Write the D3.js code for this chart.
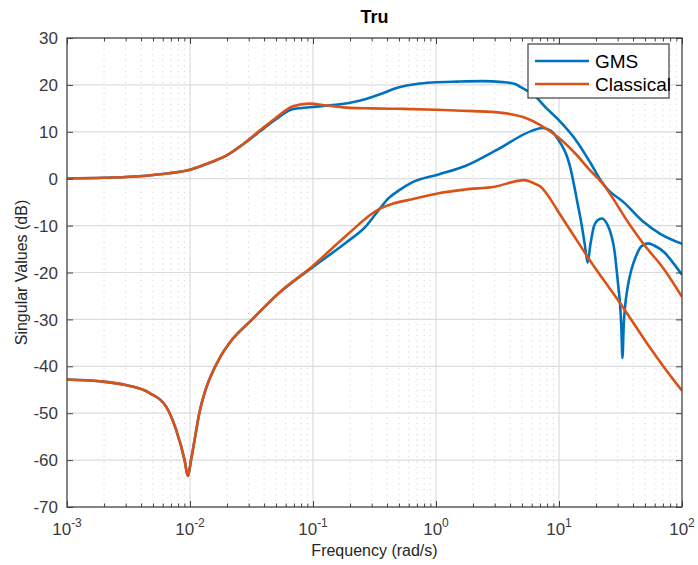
<!DOCTYPE html>
<html>
<head>
<meta charset="utf-8">
<script src="https://cdn.jsdelivr.net/npm/d3@7"></script>
<style>
  body { margin: 0; background: #fff; }
  text { font-family: "Liberation Sans", Arial, Helvetica, sans-serif; }
</style>
</head>
<body>
<svg id="chart" width="698" height="565"></svg>
<script>
// ---- Singular value data (frequency in rad/s, magnitude in dB) ----
const seriesNames  = ["GMS", "Classical"];
const seriesColors = ["#0072BD", "#D95319"];

// GMS controller: largest singular value
const gmsHiFreq = [0.001, 0.002, 0.003, 0.0057, 0.01, 0.0144, 0.0197, 0.0269, 0.0367, 0.05,
                   0.068, 0.1, 0.143, 0.2, 0.27, 0.35, 0.5, 0.7, 0.93, 1.5,
                   2.36, 3.5, 4.4, 4.9, 6.27, 8, 9.7, 14, 18, 22,
                   24.7, 33.5, 48.5, 66, 100];
const gmsHiDb   = [0.1, 0.2, 0.35, 0.95, 1.9, 3.4, 4.9, 7.3, 10.0, 12.7,
                   14.8, 15.3, 15.7, 16.2, 17.0, 18.0, 19.5, 20.2, 20.5, 20.7,
                   20.8, 20.6, 20.2, 19.5, 17.8, 14.9, 12.8, 7.9, 3.4, -0.5,
                   -2.2, -5.0, -9.2, -11.7, -13.9];

// GMS controller: smallest singular value
const gmsLoFreq = [0.001, 0.00185, 0.003, 0.0047, 0.0064, 0.0077, 0.00904, 0.0096, 0.0102, 0.0109,
                   0.0119, 0.0132, 0.0148, 0.0172, 0.021, 0.032, 0.053, 0.099, 0.185, 0.27,
                   0.344, 0.41, 0.5, 0.64, 1.05, 1.73, 3.2, 6.0, 7.3, 8.5,
                   9.7, 12.4, 14.0, 15.2, 16.2, 17.1, 18.0, 19.2, 20.5, 22.3,
                   24.5, 26.7, 28.3, 29.4, 30.5, 31.3, 32.1, 32.8, 33.6, 34.7,
                   36.5, 38.8, 42, 46.8, 53.1, 60, 72.4, 85, 100];
const gmsLoDb   = [-42.8, -43.2, -44.0, -45.7, -48.6, -53.5, -60.0, -63.4, -60.0, -55.7,
                   -50.0, -45.5, -42.0, -38.5, -35.0, -30.0, -24.4, -18.9, -13.65, -10.1,
                   -6.6, -4.2, -2.5, -0.8, 0.9, 2.7, 6.3, 10.2, 10.8, 10.3,
                   8.6, 2.2, -4.6, -9.5, -14.0, -17.9, -14.0, -10.2, -8.9, -8.5,
                   -9.6, -12.2, -15.5, -19.4, -23.5, -26.5, -31.5, -38.2, -31.0, -26.5,
                   -22.5, -19.4, -16.7, -14.4, -13.8, -14.3, -15.8, -18.0, -20.5];

// Classical controller: largest singular value
const clsHiFreq = [0.001, 0.002, 0.003, 0.0057, 0.01, 0.0144, 0.0197, 0.0269, 0.0367, 0.05,
                   0.068, 0.093, 0.13, 0.2, 0.3, 0.5, 1, 2, 2.85, 4,
                   5.3, 7, 9.9, 14, 17.3, 23, 37.6, 50, 70, 100];
const clsHiDb   = [0.1, 0.2, 0.35, 0.95, 1.9, 3.4, 4.9, 7.35, 10.2, 13.0,
                   15.4, 16.0, 15.6, 15.1, 15.0, 14.9, 14.7, 14.4, 14.25, 13.8,
                   13.0, 11.5, 8.8, 5.0, 2.2, -1.3, -9.8, -14.3, -19.0, -25.2];

// Classical controller: smallest singular value
const clsLoFreq = [0.001, 0.00185, 0.003, 0.0047, 0.0064, 0.0077, 0.00904, 0.0096, 0.0102, 0.0109,
                   0.0119, 0.0132, 0.0148, 0.0172, 0.021, 0.032, 0.053, 0.099, 0.185, 0.344,
                   0.45, 0.64, 1.05, 1.73, 3.0, 5.2, 6.4, 7.1, 8.0, 9.9,
                   12.5, 17.3, 33.5, 54.8, 72.4, 100];
const clsLoDb   = [-42.8, -43.2, -44.0, -45.7, -48.6, -53.5, -60.0, -63.4, -60.0, -55.7,
                   -50.0, -45.5, -42.0, -38.5, -35.0, -30.0, -24.3, -18.65, -12.2, -6.5,
                   -5.3, -4.4, -3.1, -2.3, -1.7, -0.3, -1.1, -1.7, -3.3, -7.1,
                   -11.2, -16.9, -27.6, -36.0, -40.4, -45.2];

// Axis ticks
const freqMajor = [0.001, 0.01, 0.1, 1, 10, 100];
const freqExp   = ["-3", "-2", "-1", "0", "1", "2"];
const dbTicks   = [-70, -60, -50, -40, -30, -20, -10, 0, 10, 20, 30];

const titleText = "Tru";
const xLabel = "Frequency (rad/s)";
const yLabel = "Singular Values (dB)";

// ---- Layout ----
const P = { left: 67, right: 682, top: 38, bottom: 507 };
const axisColor = "#404040";
const textColor = "#3a3a3a";

const svg = d3.select("#chart");
const x = d3.scaleLog().domain([1e-3, 1e2]).range([P.left, P.right]);
const y = d3.scaleLinear().domain([-70, 30]).range([P.bottom, P.top]);

const isDecade = v => Math.abs(Math.log10(v) - Math.round(Math.log10(v))) < 1e-9;
const minorFreq = x.ticks().filter(v => !isDecade(v));

// ---- Grid ----
const grid = svg.append("g");
grid.selectAll("line.minor").data(minorFreq).join("line")
  .attr("x1", d => x(d)).attr("x2", d => x(d))
  .attr("y1", P.top).attr("y2", P.bottom)
  .attr("stroke", "#cdcdcd").attr("stroke-width", 1)
  .attr("stroke-dasharray", "1,4.5");
grid.selectAll("line.vmaj").data(freqMajor).join("line")
  .attr("x1", d => x(d)).attr("x2", d => x(d))
  .attr("y1", P.top).attr("y2", P.bottom)
  .attr("stroke", "#dcdcdc").attr("stroke-width", 1.2);
grid.selectAll("line.hmaj").data(dbTicks).join("line")
  .attr("x1", P.left).attr("x2", P.right)
  .attr("y1", d => y(d)).attr("y2", d => y(d))
  .attr("stroke", "#dcdcdc").attr("stroke-width", 1.2);

// ---- Curves ----
svg.append("clipPath").attr("id", "plotclip")
  .append("rect").attr("x", P.left).attr("y", P.top)
  .attr("width", P.right - P.left).attr("height", P.bottom - P.top);

const line = d3.line()
  .x(d => x(d[0])).y(d => y(d[1]))
  .curve(d3.curveMonotoneX);

const zip = (f, v) => f.map((fi, i) => [fi, v[i]]);
const curves = [
  { pts: zip(gmsHiFreq, gmsHiDb), color: seriesColors[0] },
  { pts: zip(gmsLoFreq, gmsLoDb), color: seriesColors[0] },
  { pts: zip(clsHiFreq, clsHiDb), color: seriesColors[1] },
  { pts: zip(clsLoFreq, clsLoDb), color: seriesColors[1] }
];
const plot = svg.append("g").attr("clip-path", "url(#plotclip)");
plot.selectAll("path").data(curves).join("path")
  .attr("d", d => line(d.pts))
  .attr("fill", "none")
  .attr("stroke", d => d.color)
  .attr("stroke-width", 2.6)
  .attr("stroke-linejoin", "round");

// ---- Axes box and ticks ----
const ax = svg.append("g");
ax.append("g").attr("transform", `translate(0,${P.bottom})`)
  .call(d3.axisBottom(x).tickValues(minorFreq).tickSizeInner(-3.5).tickSizeOuter(0).tickFormat(""));
ax.append("g").attr("transform", `translate(0,${P.bottom})`)
  .call(d3.axisBottom(x).tickValues(freqMajor).tickSizeInner(-6).tickSizeOuter(0).tickFormat(""));
ax.append("g").attr("transform", `translate(0,${P.top})`)
  .call(d3.axisTop(x).tickValues(minorFreq).tickSizeInner(-3.5).tickSizeOuter(0).tickFormat(""));
ax.append("g").attr("transform", `translate(0,${P.top})`)
  .call(d3.axisTop(x).tickValues(freqMajor).tickSizeInner(-6).tickSizeOuter(0).tickFormat(""));
ax.append("g").attr("transform", `translate(${P.left},0)`)
  .call(d3.axisLeft(y).tickValues(dbTicks).tickSizeInner(-6).tickSizeOuter(0).tickFormat(""));
ax.append("g").attr("transform", `translate(${P.right},0)`)
  .call(d3.axisRight(y).tickValues(dbTicks).tickSizeInner(-6).tickSizeOuter(0).tickFormat(""));
ax.selectAll(".domain").remove();
ax.selectAll("line").attr("stroke", axisColor).attr("stroke-width", 1);
ax.append("rect")
  .attr("x", P.left).attr("y", P.top)
  .attr("width", P.right - P.left).attr("height", P.bottom - P.top)
  .attr("fill", "none").attr("stroke", axisColor).attr("stroke-width", 1.2);

// ---- Tick labels ----
svg.append("g").selectAll("text").data(dbTicks).join("text")
  .attr("x", P.left - 9).attr("y", d => y(d))
  .attr("dy", "0.36em")
  .attr("text-anchor", "end")
  .attr("font-size", 17)
  .attr("fill", textColor)
  .text(d => d);

const xl = svg.append("g").selectAll("text").data(freqMajor).join("text")
  .attr("x", d => x(d)).attr("y", P.bottom + 28)
  .attr("text-anchor", "middle")
  .attr("font-size", 17)
  .attr("fill", textColor);
xl.append("tspan").text("10");
xl.append("tspan").attr("dy", -8).attr("font-size", 12).text((d, i) => freqExp[i]);

// ---- Titles ----
svg.append("text")
  .attr("x", (P.left + P.right) / 2).attr("y", 23)
  .attr("text-anchor", "middle")
  .attr("font-size", 18).attr("font-weight", "bold")
  .attr("fill", "#000")
  .text(titleText);
svg.append("text")
  .attr("x", (P.left + P.right) / 2).attr("y", 556)
  .attr("text-anchor", "middle")
  .attr("font-size", 16)
  .attr("fill", "#262626")
  .text(xLabel);
svg.append("text")
  .attr("transform", `translate(27,${(P.top + P.bottom) / 2}) rotate(-90)`)
  .attr("text-anchor", "middle")
  .attr("font-size", 16)
  .attr("fill", "#262626")
  .text(yLabel);

// ---- Legend ----
const lg = svg.append("g");
lg.append("rect")
  .attr("x", 528).attr("y", 44).attr("width", 141).attr("height", 54)
  .attr("fill", "#fff").attr("stroke", axisColor).attr("stroke-width", 1.2);
const items = lg.selectAll("g.item").data(seriesNames).join("g")
  .attr("transform", (d, i) => `translate(0,${61 + i * 23})`);
items.append("line")
  .attr("x1", 535).attr("x2", 589)
  .attr("stroke", (d, i) => seriesColors[i]).attr("stroke-width", 2.6);
items.append("text")
  .attr("x", 595).attr("dy", "0.36em")
  .attr("font-size", 19)
  .attr("fill", "#000")
  .text(d => d);
</script>
</body>
</html>
